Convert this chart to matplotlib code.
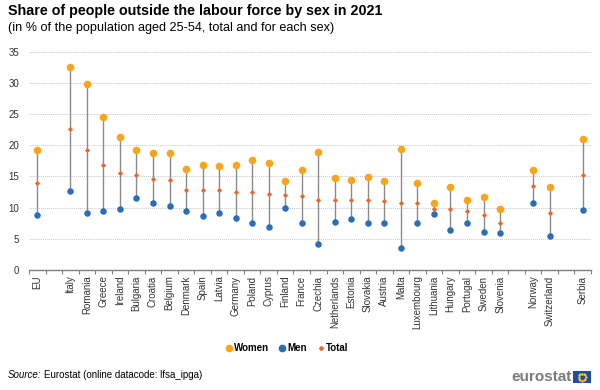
import numpy as np
import matplotlib.pyplot as plt
from matplotlib.patches import Rectangle
from matplotlib.lines import Line2D

plt.rcParams['font.family'] = ['Liberation Sans', 'DejaVu Sans']

# Categories (empty strings are the gaps between groups)
pays = ['EU', '', 'Italy', 'Romania', 'Greece', 'Ireland', 'Bulgaria', 'Croatia',
        'Belgium', 'Denmark', 'Spain', 'Latvia', 'Germany', 'Poland', 'Cyprus',
        'Finland', 'France', 'Czechia', 'Netherlands', 'Estonia', 'Slovakia',
        'Austria', 'Malta', 'Luxembourg', 'Lithuania', 'Hungary', 'Portugal',
        'Sweden', 'Slovenia', '', 'Norway', 'Switzerland', '', 'Serbia']

femmes = [19.3, None, 32.6, 29.9, 24.5, 21.4, 19.2, 18.7, 18.8, 16.2, 16.9, 16.6,
          16.8, 17.7, 17.2, 14.3, 16.0, 18.9, 14.8, 14.5, 14.9, 14.3, 19.4, 14.0,
          10.7, 13.3, 11.2, 11.7, 9.8, None, 16.0, 13.3, None, 21.0]
hommes = [8.8, None, 12.7, 9.2, 9.4, 9.8, 11.6, 10.7, 10.3, 9.5, 8.7, 9.1,
          8.4, 7.5, 6.9, 9.9, 7.6, 4.2, 7.7, 8.1, 7.5, 7.6, 3.5, 7.5,
          9.0, 6.4, 7.6, 6.1, 5.9, None, 10.8, 5.5, None, 9.6]
total = [13.9, None, 22.6, 19.3, 16.8, 15.6, 15.2, 14.6, 14.5, 12.8, 12.8, 12.8,
         12.5, 12.5, 12.2, 12.0, 11.9, 11.2, 11.2, 11.2, 11.2, 11.0, 10.8, 10.7,
         9.8, 9.8, 9.5, 8.8, 7.6, None, 13.4, 9.2, None, 15.2]

coul_femmes = '#FAA519'
coul_hommes = '#2A6EBB'
coul_total = '#F06423'

fig = plt.figure(figsize=(6, 3.9), dpi=100)
ax = fig.add_axes([29 / 600, 1 - 270 / 390, 562 / 600, (270 - 51.7) / 390])

x = np.arange(len(pays))
for i in x:
    if femmes[i] is None:
        continue
    ax.plot([i, i], [hommes[i], femmes[i]], color='#8a8a8a', lw=1.0, zorder=2)
    ax.scatter(i, femmes[i], s=30, color=coul_femmes, zorder=3, linewidths=0)
    ax.scatter(i, hommes[i], s=22, color=coul_hommes, zorder=3, linewidths=0)
    ax.scatter(i, total[i], s=7, marker='D', color=coul_total, zorder=4, linewidths=0)

ax.set_xlim(-0.5, len(pays) - 0.5)
ax.set_ylim(0, 35)
ax.set_yticks(range(0, 36, 5))
ax.yaxis.grid(True, linestyle=(0, (1, 1)), color='#c8c8c8', lw=0.7)
ax.set_axisbelow(True)
ax.tick_params(axis='y', length=0, labelsize=7, labelcolor='#333333', pad=7)

ax.set_xticks(x)
ax.set_xticklabels(pays, rotation=90, fontsize=7, color='#333333')
ax.set_xticks(np.arange(-0.5, len(pays)), minor=True)
ax.tick_params(axis='x', which='major', length=0, pad=4)
ax.tick_params(axis='x', which='minor', length=3, color='#808080', width=0.8)

for s in ['top', 'right', 'left']:
    ax.spines[s].set_visible(False)
ax.spines['bottom'].set_color('#808080')
ax.spines['bottom'].set_linewidth(1.0)

fig.text(8 / 600, 1 - 11 / 390, 'Share of people outside the labour force by sex in 2021',
         fontsize=10.3, fontweight='bold', va='center', ha='left', color='#000000')
fig.text(8 / 600, 1 - 28 / 390, '(in % of the population aged 25-54, total and for each sex)',
         fontsize=9.1, va='center', ha='left', color='#000000')

poignees = [
    Line2D([], [], marker='o', ls='', color=coul_femmes, markersize=4.5),
    Line2D([], [], marker='o', ls='', color=coul_hommes, markersize=4.5),
    Line2D([], [], marker='D', ls='', color=coul_total, markersize=2),
]
fig.legend(poignees, ['Women', 'Men', 'Total'], loc='center',
           bbox_to_anchor=(286 / 600, 1 - 348 / 390), ncol=3, frameon=False,
           handletextpad=0.0, columnspacing=0.9, handlelength=1.0,
           prop={'size': 7, 'weight': 'bold'})

src = fig.text(8 / 600, 1 - 378 / 390, 'Source:', fontsize=7, style='italic',
               va='baseline', ha='left')
ax.annotate('Eurostat (online datacode: lfsa_ipga)', xy=(1, 0), xycoords=src,
            xytext=(1.5, 0), textcoords='offset points',
            fontsize=7, va='bottom', ha='left', annotation_clip=False)

# logo eurostat
fig.text(572 / 600, 1 - 377 / 390, 'eurostat', fontsize=11, fontweight='bold',
         color='#7a7a7a', va='center', ha='right')
fig.patches.append(Rectangle((573 / 600, 1 - 383 / 390), 18 / 600, 12 / 390,
                             transform=fig.transFigure, facecolor='#1f4fa0',
                             edgecolor='none'))
ang = np.linspace(0, 2 * np.pi, 12, endpoint=False)
fig.add_artist(Line2D((582 + 3.5 * np.cos(ang)) / 600, (1 - 377 / 390) + 3.5 * np.sin(ang) / 390,
                      transform=fig.transFigure, ls='', marker='o', markersize=0.7,
                      color='#ffd200'))

fig.savefig('out.png', dpi=100)
